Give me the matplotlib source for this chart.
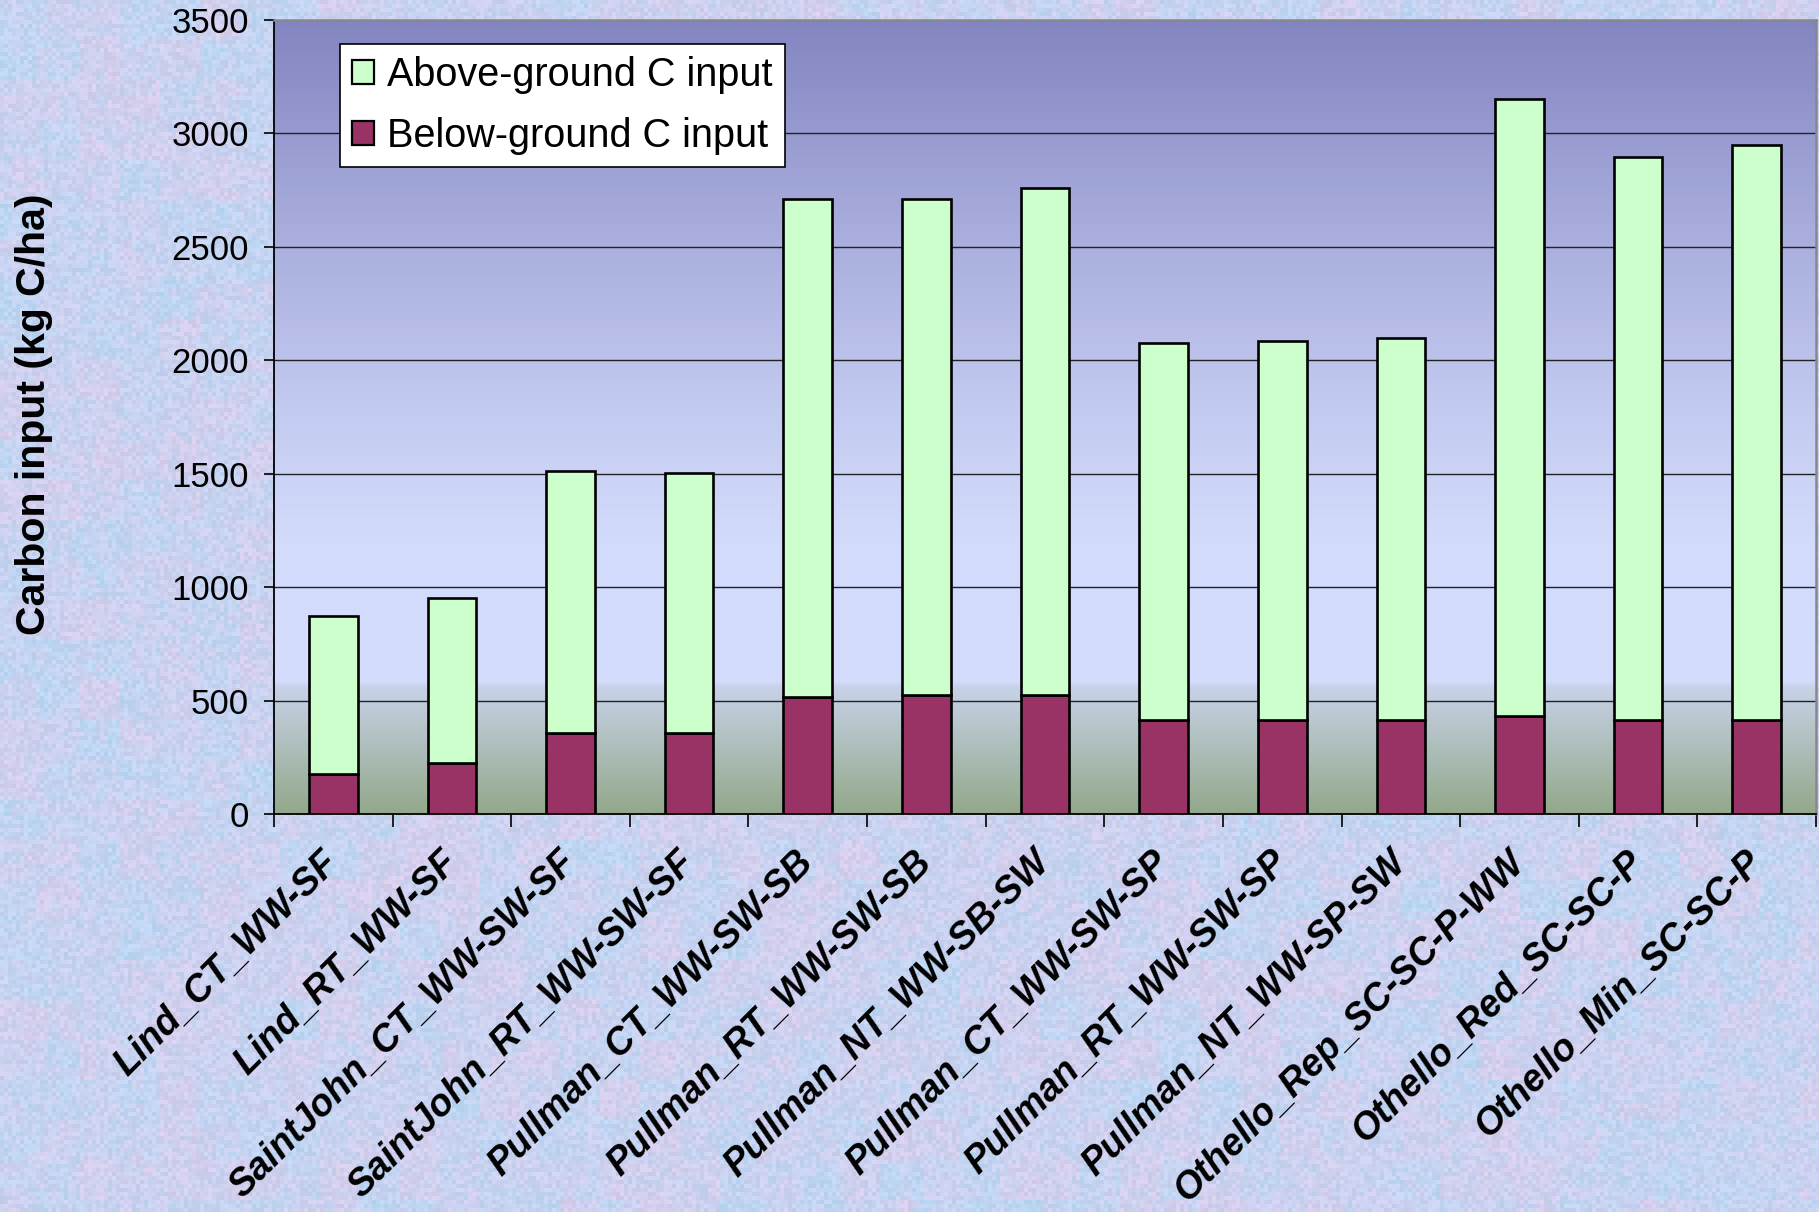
import numpy as np
import matplotlib
matplotlib.use("Agg")
import matplotlib.pyplot as plt
from matplotlib.colors import to_rgb

# --- data -------------------------------------------------------------
sites = [
    "Lind_CT_WW-SF", "Lind_RT_WW-SF", "SaintJohn_CT_WW-SW-SF",
    "SaintJohn_RT_WW-SW-SF", "Pullman_CT_WW-SW-SB", "Pullman_RT_WW-SW-SB",
    "Pullman_NT_WW-SB-SW", "Pullman_CT_WW-SW-SP", "Pullman_RT_WW-SW-SP",
    "Pullman_NT_WW-SP-SW", "Othello_Rep_SC-SC-P-WW", "Othello_Red_SC-SC-P",
    "Othello_Min_SC-SC-P",
]
below_ground = [176, 223, 357, 357, 514, 525, 525, 413, 413, 413, 433, 413, 413]
above_ground = [697, 727, 1155, 1145, 2199, 2188, 2235, 1662, 1672, 1684, 2719, 2481, 2537]
y_ticks = [0, 500, 1000, 1500, 2000, 2500, 3000, 3500]
legend_labels = ["Above-ground C input", "Below-ground C input"]

W, H, DPI = 1819, 1212, 100
plt.rcParams["font.family"] = ["Liberation Sans", "DejaVu Sans"]

fig = plt.figure(figsize=(W / DPI, H / DPI), dpi=DPI)

# mottled paper-like backdrop
rng = np.random.default_rng(11)
def blocks(shape, k):
    a = rng.random(shape)
    a = np.kron(a, np.ones((k, k)))
    return a[:H, :W]
coarse = blocks((H // 40 + 2, W // 40 + 2), 40)
mid = blocks((H // 12 + 2, W // 12 + 2), 12)
fine = blocks((H // 4 + 2, W // 4 + 2), 4)
mix = 0.45 * coarse + 0.35 * mid + 0.20 * fine
c_blue = np.array(to_rgb("#b8d8f4"))
c_lav = np.array(to_rgb("#dccdec"))
tex = c_blue[None, None, :] * (1 - mix[..., None]) + c_lav[None, None, :] * mix[..., None]
tex += (fine[..., None] - 0.5) * 0.06
tex = np.clip(tex, 0, 1)
fig.figimage(tex, xo=0, yo=0, origin="upper", zorder=-1)

ax = fig.add_axes([274 / W, 1 - 814 / H, (1816 - 274) / W, (814 - 20) / H])
ax.set_facecolor("none")

# plot-area gradient (value -> colour)
stops_v = [0, 560, 585, 1200, 1800, 2600, 3500]
stops_c = ["#92a88a", "#c8d2e8", "#d5ddfe", "#d3dbfc", "#c3caf0", "#a7acdc", "#8385c0"]
vals = np.linspace(0, 3500, 700)
rgb = np.array([to_rgb(c) for c in stops_c])
grad = np.stack([np.interp(vals, stops_v, rgb[:, i]) for i in range(3)], axis=-1)
ax.imshow(grad[:, None, :], extent=(-0.5, len(sites) - 0.5, 0, 3500),
          origin="lower", aspect="auto", zorder=0, interpolation="bilinear")

x = np.arange(len(sites))
bw = 0.41
ax.bar(x, below_ground, bw, color="#993366", edgecolor="black", linewidth=1.9,
       zorder=3, label=legend_labels[1])
ax.bar(x, above_ground, bw, bottom=below_ground, color="#ccffcc",
       edgecolor="black", linewidth=1.9, zorder=3, label=legend_labels[0])

ax.set_xlim(-0.5, len(sites) - 0.5)
ax.set_ylim(0, 3500)
ax.set_yticks(y_ticks)
ax.set_yticklabels([str(v) for v in y_ticks], fontsize=25)
for v in y_ticks[1:-1]:
    ax.axhline(v, color="#222222", lw=1.0, zorder=1)

ax.set_xticks(x)
ax.set_xticklabels(sites, rotation=45, ha="right", va="center",
                   rotation_mode="anchor", fontsize=27, fontweight="bold",
                   fontstyle="italic")
ax.set_xticks(np.arange(-0.5, len(sites)), minor=True)
ax.tick_params(axis="x", which="major", length=0, pad=31)
ax.tick_params(axis="x", which="minor", length=9, width=1.2, direction="out")
ax.tick_params(axis="y", length=7, width=1.2, pad=11)

for s in ("left", "bottom"):
    ax.spines[s].set_color("black")
    ax.spines[s].set_linewidth(1.3)
for s in ("top", "right"):
    ax.spines[s].set_color("#888888")
    ax.spines[s].set_linewidth(1.8)

fig.text(34 / W, 1 - 414 / H, "Carbon input (kg C/ha)", rotation=90,
         ha="center", va="center", fontsize=29.5, fontweight="bold")

handles, labels = ax.get_legend_handles_labels()
leg = ax.legend(handles[::-1], labels[::-1], loc="upper left",
                bbox_to_anchor=(0.0428, 0.970), fontsize=28.5, frameon=True,
                fancybox=False, edgecolor="black", facecolor="white",
                framealpha=1, handlelength=0.55, handleheight=0.55,
                handletextpad=0.35, labelspacing=0.58, borderpad=0.3,
                borderaxespad=0)
leg.get_frame().set_linewidth(1.2)
for p in leg.get_patches():
    p.set_linewidth(1.6)

fig.savefig("out.png", dpi=DPI)
